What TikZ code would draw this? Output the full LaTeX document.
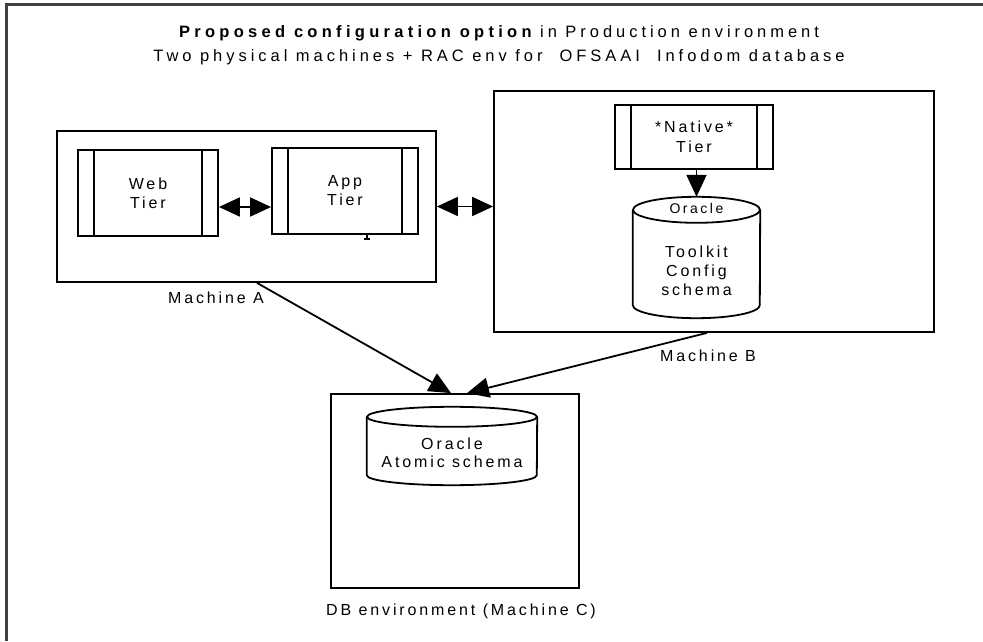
\documentclass[tikz,border=0pt]{standalone}
\usepackage{fontspec}
\setmainfont{Liberation Sans}
\usetikzlibrary{arrows.meta}

\tikzset{
  machine/.style={draw, line width=1.8pt, rectangle, inner sep=0pt},
  tier/.style={draw, line width=1.8pt, rectangle, inner sep=0pt, align=center,
    path picture={
      \draw[line width=1.8pt] ([xshift=16pt]path picture bounding box.north west) -- ([xshift=16pt]path picture bounding box.south west);
      \draw[line width=1.8pt] ([xshift=-16pt]path picture bounding box.north east) -- ([xshift=-16pt]path picture bounding box.south east);
    }},
  dbnode/.style={rectangle, inner sep=0pt},
  dbline/.style={line width=1.8pt},
  lbl/.style={align=center, inner sep=0pt, font=\fontsize{16}{19}\selectfont\addfontfeatures{LetterSpace=18}},
  conn/.style={line width=1.8pt, -{Triangle[length=22pt,width=20pt]}},
  dconn/.style={line width=1.8pt, {Triangle[length=21pt,width=19pt]}-{Triangle[length=21pt,width=19pt]}}
}

\begin{document}
\begin{tikzpicture}[x=1pt,y=1pt]
\useasboundingbox (0,0) rectangle (983,641);
% outer frame, only top and left show
\draw[line width=3pt, black!75] (6,0) -- (6,636) -- (983,636);

% title
\node[align=center, inner sep=0pt, font=\fontsize{16.5}{24}\selectfont\addfontfeatures{LetterSpace=24}] (title) at (499,596)
  {{\addfontfeatures{LetterSpace=26}\bfseries Proposed configuration option} in Production environment\\
   Two physical machines + RAC env for \ OFSAAI \ Infodom database};

% machine A
\node[machine, minimum width=379, minimum height=151] (macha) at (246.5,434.5) {};
\node[tier, minimum width=140, minimum height=86, lbl] (web) at (148,448) {Web\\Tier};
\node[tier, minimum width=146, minimum height=86, lbl] (app) at (345,450) {App\\Tier};
\node[lbl] (labela) at (216,343) {Machine A};

% machine B
\node[machine, minimum width=440, minimum height=241] (machb) at (714,429.5) {};
\node[tier, minimum width=158, minimum height=64, lbl, font=\fontsize{16}{20}\selectfont\addfontfeatures{LetterSpace=18}] (native) at (694,504) {*Native*\\Tier};
\node[dbnode, minimum width=127, minimum height=121] (tkdb) at (696.5,383.5) {};
\draw[dbline] ([yshift=-13pt]tkdb.north west) -- ([yshift=13pt]tkdb.south west)
  arc[start angle=180, end angle=360, x radius=63.5, y radius=13] -- ([yshift=-13pt]tkdb.north east);
\draw[dbline] ([yshift=-13pt]tkdb.north) ellipse [x radius=63.5, y radius=13];
\node[lbl, font=\fontsize{14}{17}\selectfont\addfontfeatures{LetterSpace=18}] (tkora) at (696.5,433) {Oracle};
\node[lbl] (tktext) at (696.5,370) {Toolkit\\Config\\schema};
\node[lbl] (labelb) at (708,285) {Machine B};

% machine C
\node[machine, minimum width=248, minimum height=194] (machc) at (455,150) {};
\node[dbnode, minimum width=170, minimum height=78] (atdb) at (452,195) {};
\draw[dbline] ([yshift=-10pt]atdb.north west) -- ([yshift=10pt]atdb.south west)
  arc[start angle=180, end angle=360, x radius=85, y radius=10] -- ([yshift=-10pt]atdb.north east);
\draw[dbline] ([yshift=-10pt]atdb.north) ellipse [x radius=85, y radius=10];
\node[lbl, font=\fontsize{16}{18}\selectfont\addfontfeatures{LetterSpace=18}] (attext) at (452,188) {Oracle\\Atomic schema};
\node[lbl] (labelc) at (461,30) {DB environment (Machine C)};

% connectors
\draw[dconn] ([yshift=-14pt]web.east) -- ([yshift=-16pt]app.west);
\draw[dconn] (macha.east) -- (macha.east -| machb.west);
\draw[conn] (native.south -| tkdb.north) -- (tkdb.north);
\draw[conn] ([xshift=10.5pt]macha.south) -- ([xshift=-4pt]machc.north);
\draw[conn] ([xshift=-7pt]machb.south) -- ([xshift=12pt]machc.north);
\draw[line width=1.5pt] ([xshift=22pt]app.south) -- ++(0,-4);
\draw[line width=1.5pt] ([xshift=19pt,yshift=-4pt]app.south) -- ++(6,0);
\end{tikzpicture}
\end{document}
